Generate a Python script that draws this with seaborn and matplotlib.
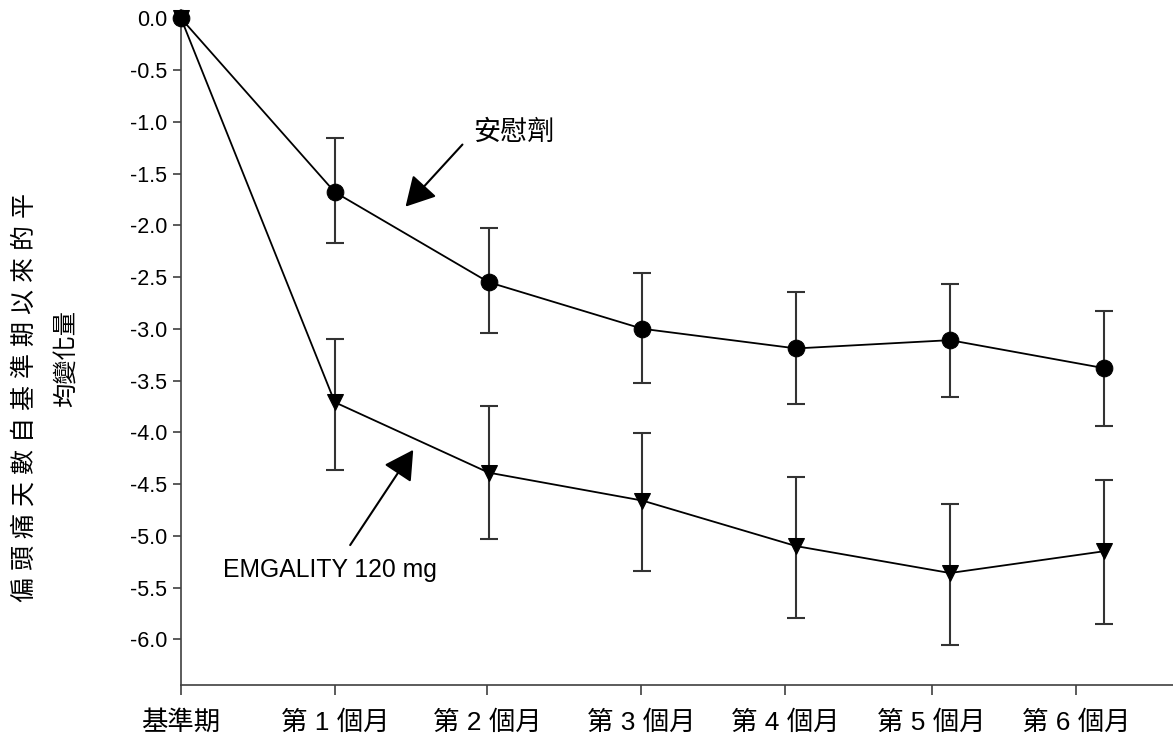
import pandas as pd
import seaborn as sns
import matplotlib.pyplot as plt

# values
months = ["基準期", "第 1 個月", "第 2 個月", "第 3 個月", "第 4 個月", "第 5 個月", "第 6 個月"]
month_idx = [0, 1, 2, 3, 4, 5, 6]
xtick_pos = [0, 1.0, 1.99, 2.99, 3.93, 4.88, 5.82]

placebo_name = "安慰劑"
placebo_mean = [0.0, -1.68, -2.55, -3.00, -3.19, -3.11, -3.38]
placebo_upper = [0.0, -1.16, -2.03, -2.46, -2.64, -2.57, -2.83]
placebo_lower = [0.0, -2.17, -3.04, -3.52, -3.73, -3.66, -3.94]

emg_name = "EMGALITY 120 mg"
emg_mean = [0.0, -3.71, -4.39, -4.66, -5.10, -5.36, -5.15]
emg_upper = [0.0, -3.10, -3.75, -4.01, -4.43, -4.69, -4.46]
emg_lower = [0.0, -4.36, -5.03, -5.34, -5.79, -6.06, -5.85]

ylabel_1 = "偏 頭 痛 天 數 自 基 準 期 以 來 的 平"
ylabel_2 = "均變化量"

sns.set_style("ticks")
plt.rcParams["font.family"] = ["Liberation Sans", "Noto Sans CJK TC", "DejaVu Sans"]
plt.rcParams["axes.unicode_minus"] = False
plt.rcParams["text.color"] = "black"
plt.rcParams["xtick.labelcolor"] = "black"
plt.rcParams["ytick.labelcolor"] = "black"

df = pd.DataFrame({
    "month": month_idx * 2,
    "change": placebo_mean + emg_mean,
    "group": [placebo_name] * 7 + [emg_name] * 7,
})

fig = plt.figure(figsize=(11.73, 7.42), dpi=100)
ax = fig.add_axes([181 / 1173, 1 - 685 / 742, (1173 - 181) / 1173, (685 - 10) / 742])

groups = [
    (placebo_mean, placebo_upper, placebo_lower),
    (emg_mean, emg_upper, emg_lower),
]
for mean, upper, lower in groups:
    err_lo = [m - l for m, l in zip(mean, lower)][1:]
    err_hi = [u - m for m, u in zip(mean, upper)][1:]
    ax.errorbar(month_idx[1:], mean[1:], yerr=[err_lo, err_hi], fmt="none",
                ecolor="#333333", elinewidth=1.5, capsize=6.5, capthick=1.5, zorder=2)

sns.lineplot(data=df, x="month", y="change", hue="group", style="group",
             hue_order=[emg_name, placebo_name], style_order=[emg_name, placebo_name],
             markers={placebo_name: "o", emg_name: "v"}, dashes=False,
             palette={placebo_name: "black", emg_name: "black"},
             markersize=12, linewidth=1.3, markeredgecolor="black",
             legend=False, clip_on=False, zorder=3, ax=ax)

arrow_style = dict(arrowstyle="-|>,head_length=0.45,head_width=0.25",
                   mutation_scale=40, color="black", lw=1.5, shrinkA=0, shrinkB=0)
ax.annotate("", xy=(1.46, -1.82), xytext=(1.83, -1.22), arrowprops=arrow_style)
ax.text(1.90, -1.11, placebo_name, fontsize=19.5, ha="left", va="center")

ax.annotate("", xy=(1.51, -4.17), xytext=(1.10, -5.09), arrowprops=arrow_style)
ax.text(0.27, -5.33, emg_name, fontsize=17.8, ha="left", va="center")

ax.set_xlim(0, 6.45)
ax.set_ylim(-6.442, 0.08)
ax.set_yticks([-0.5 * i for i in range(13)])
ax.set_yticklabels([f"{-0.5 * i:.1f}" if i else "0.0" for i in range(13)])
ax.set_xticks(xtick_pos)
ax.set_xticklabels(months)
ax.set_xlabel("")
ax.set_ylabel("")

sns.despine(ax=ax)
for side in ["left", "bottom"]:
    ax.spines[side].set_color("#404040")
    ax.spines[side].set_linewidth(1.2)
ax.tick_params(axis="y", labelsize=15.5, length=6, width=1.2, color="#404040", pad=4)
ax.tick_params(axis="x", labelsize=19, length=7, width=1.2, color="#404040", pad=11)

fig.text(25 / 1173, 1 - 397 / 742, ylabel_1, rotation=90, ha="center", va="center", fontsize=18)
fig.text(66 / 1173, 1 - 358 / 742, ylabel_2, rotation=90, ha="center", va="center", fontsize=17.5)

fig.savefig("out.png", dpi=100)
